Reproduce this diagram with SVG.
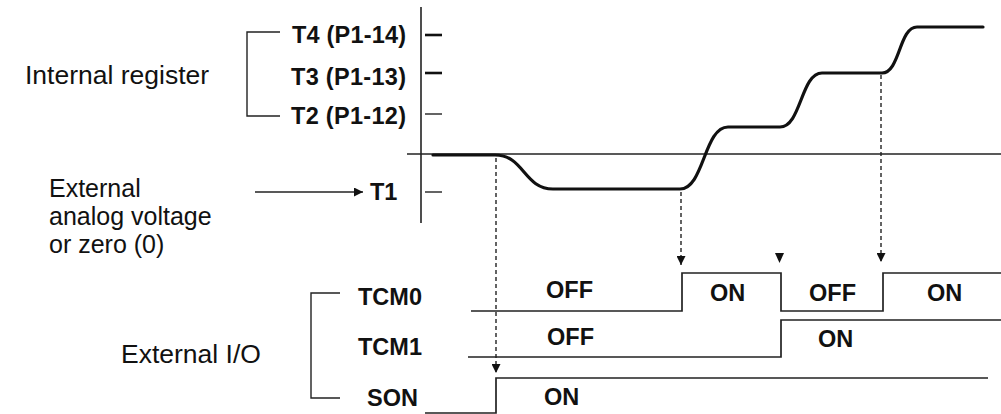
<svg xmlns="http://www.w3.org/2000/svg" width="1001" height="414" viewBox="0 0 1001 414">
<style>
.bg{fill:#fff}
.ln{fill:none;stroke:#222;stroke-width:1.6}
.thin{fill:none;stroke:#222;stroke-width:1.4}
.tk{fill:none;stroke:#111;stroke-width:2.6}
.curve{fill:none;stroke:#111;stroke-width:3.2;stroke-linejoin:round;stroke-linecap:round}
.dash{fill:none;stroke:#222;stroke-width:1.4;stroke-dasharray:4 3}
.sig{fill:none;stroke:#222;stroke-width:1.7}
.ah{fill:#111}
.n{font-family:"Liberation Sans",Arial,sans-serif;font-size:26.5px;fill:#111}
.n2{font-family:"Liberation Sans",Arial,sans-serif;font-size:25px;fill:#111}
.b{font-family:"Liberation Sans",Arial,sans-serif;font-size:23.5px;font-weight:bold;fill:#111}
</style>
<defs>
<marker id="arr" viewBox="0 0 10 10" refX="10" refY="5" markerWidth="10" markerHeight="9" markerUnits="userSpaceOnUse" orient="auto">
<path d="M0,0 L10,5 L0,10 z" fill="#111"/>
</marker>
</defs>
<rect class="bg" x="0" y="0" width="1001" height="414"/>

<g id="internal-register">
<text class="n" x="25" y="84">Internal register</text>
<path class="thin" d="M280,32 H247 V116 H280"/>
<text class="b" x="292" y="43" textLength="114" lengthAdjust="spacing">T4 (P1-14)</text>
<text class="b" x="291" y="85" textLength="115" lengthAdjust="spacing">T3 (P1-13)</text>
<text class="b" x="291" y="124" textLength="115" lengthAdjust="spacing">T2 (P1-12)</text>
</g>

<g id="external-analog">
<text class="n2" x="49" y="197">External</text>
<text class="n2" x="49" y="225">analog voltage</text>
<text class="n2" x="49" y="253">or zero (0)</text>
<text class="b" x="370" y="200">T1</text>
</g>

<g id="axes">
<line class="ln" x1="421" y1="7" x2="421" y2="223"/>
<line class="ln" x1="407" y1="154" x2="1001" y2="154"/>
<line class="tk" x1="425" y1="35" x2="442" y2="35"/>
<line class="tk" x1="425" y1="73" x2="442" y2="73"/>
<line class="thin" x1="425" y1="114" x2="442" y2="114"/>
<line class="thin" x1="425" y1="192" x2="442" y2="192"/>
</g>

<g id="torque-curve">
<path class="curve" d="M433,155 H495 C524,155 524,189 553,189 H680 C704,189 704,127 728,127 H780 C801,127 801,73 822,73 H882 C900,73 899,27 917,27 H983"/>
</g>

<g id="external-io">
<text class="n" x="121" y="363">External I/O</text>
<path class="thin" d="M340,293 H311 V398 H340"/>
<text class="b" x="358" y="305">TCM0</text>
<text class="b" x="358" y="355">TCM1</text>
<text class="b" x="367" y="406">SON</text>
</g>

<g id="tcm0">
<path class="sig" d="M471,311 H682 V273 H781 V311 H883 V273 H1001"/>
<text class="b" x="546" y="298">OFF</text>
<text class="b" x="710" y="301">ON</text>
<text class="b" x="809" y="301">OFF</text>
<text class="b" x="927" y="301">ON</text>
</g>

<g id="tcm1">
<path class="sig" d="M468,357 H781 V320 H1001"/>
<text class="b" x="547" y="345">OFF</text>
<text class="b" x="818" y="347">ON</text>
</g>

<g id="son">
<path class="sig" d="M425,413 H496 V378 H988"/>
<text class="b" x="544" y="405">ON</text>
</g>

<g id="connectors">
<line class="thin" x1="255" y1="192" x2="363" y2="192" marker-end="url(#arr)"/>
<line class="dash" x1="496" y1="158" x2="496" y2="373" marker-end="url(#arr)"/>
<line class="dash" x1="681" y1="192" x2="681" y2="265" marker-end="url(#arr)"/>
<polygon class="ah" points="775,253 784,253 779.5,263"/>
<line class="dash" x1="881" y1="75" x2="881" y2="262" marker-end="url(#arr)"/>
</g>
</svg>
